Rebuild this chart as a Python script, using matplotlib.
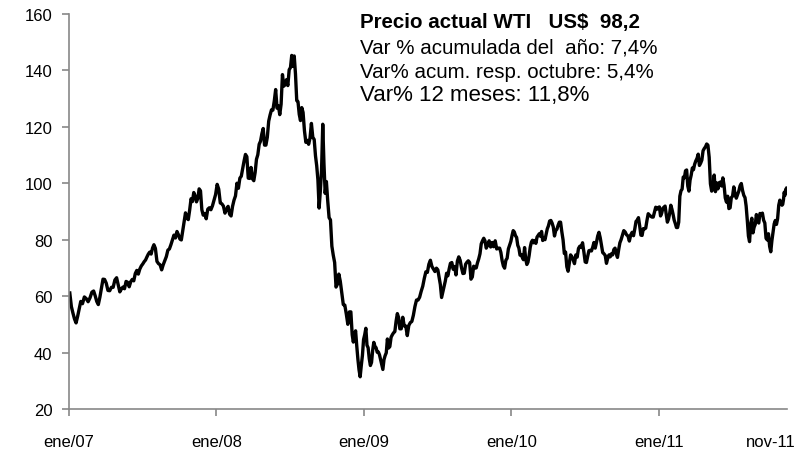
import matplotlib.pyplot as plt
import pandas as pd

# WTI (US$/barril), lecturas aproximadas por mes, ene-2007 a nov-2011
wti_2007 = [
    [61.1, 56.3, 54.0, 51.9, 50.5, 52.8, 55.4, 58.1],
    [57.3, 59.7, 59.1, 58.0, 59.4, 61.4],
    [61.8, 60.1, 58.1, 57.0, 59.6, 62.7, 66.0, 65.9],
    [64.6, 62.0, 61.9, 63.1, 63.1, 65.7, 66.5],
    [63.9, 61.5, 62.5, 63.2, 62.6, 65.2, 64.9, 63.3],
    [65.1, 65.9, 65.4, 68.0, 69.1, 67.8, 69.6, 70.7],
    [71.4, 72.2, 72.8, 73.9, 74.9, 75.6, 74.9, 77.0, 78.2],
    [76.9, 72.3, 71.5, 71.1, 69.3, 71.1, 72.5, 74.0],
    [76.3, 76.7, 78.2, 79.9, 81.6, 80.6, 82.9, 81.7],
    [80.2, 79.9, 83.1, 86.1, 89.5, 87.6, 87.1, 90.5, 94.5],
    [93.5, 96.7, 95.5, 93.4, 94.6, 98.0, 97.3, 90.6, 88.7],
    [89.3, 87.4, 90.8, 91.3, 90.6, 92.0, 94.0, 96.0],
]
wti_2008 = [
    [99.6, 97.9, 93.0, 92.7, 91.9, 89.4, 90.7, 91.8],
    [89.0, 88.4, 91.8, 94.0, 95.5, 100.0, 98.2, 101.8],
    [102.5, 105.2, 107.9, 110.2, 109.4, 101.8, 101.7, 105.6, 101.6],
    [100.9, 103.8, 108.5, 110.1, 113.8, 114.9, 117.5, 119.4, 113.5],
    [113.5, 116.3, 122.0, 124.2, 126.0, 125.9, 129.1, 133.2, 126.6],
    [127.4, 124.3, 128.0, 138.5, 134.4, 134.9, 136.7, 134.6, 140.2],
    [141.0, 145.3, 141.4, 145.1, 138.7, 129.3, 128.9, 124.4, 122.2, 126.8],
    [125.1, 118.6, 114.5, 115.2, 113.8, 116.0, 121.2, 116.3, 115.5],
    [109.7, 106.2, 101.2, 91.2, 97.2, 104.6, 120.9, 106.9, 96.4, 100.6],
    [93.9, 87.8, 87.0, 77.7, 74.5, 71.9, 63.2, 64.2, 67.8],
    [65.3, 61.0, 57.0, 56.8, 53.6, 50.0, 54.4, 54.4],
    [46.3, 43.7, 46.3, 47.7, 42.4, 37.7, 33.9, 31.4, 35.4, 39.0, 44.6],
]
wti_2009 = [
    [46.3, 48.6, 42.6, 41.7, 37.8, 35.4, 36.5, 40.8, 43.6, 42.2, 41.7],
    [40.1, 40.2, 39.2, 37.5, 35.9, 34.0, 37.5, 38.9, 39.9, 44.8],
    [41.6, 42.1, 45.4, 46.3, 47.0, 47.4, 51.1, 53.8, 52.4, 48.4],
    [48.4, 52.5, 49.4, 49.4, 46.0, 49.6, 50.6, 51.0],
    [53.2, 56.3, 58.6, 58.6, 59.6, 61.7, 63.5, 66.3],
    [68.6, 68.4, 71.3, 72.7, 70.5, 69.6, 68.7, 69.9],
    [69.3, 66.7, 64.1, 59.5, 61.5, 63.6, 65.4, 68.1, 67.2, 69.5],
    [71.6, 71.9, 69.5, 70.5, 67.5, 72.4, 73.9, 72.7, 70.0],
    [68.0, 68.1, 71.3, 72.0, 72.5, 71.9, 66.0, 66.8, 70.6],
    [69.9, 70.0, 71.8, 73.2, 75.0, 78.5, 79.6, 80.5, 79.6, 77.0],
    [78.0, 79.6, 77.4, 79.0, 77.5, 79.6, 76.7, 77.0],
    [77.0, 75.5, 72.6, 70.7, 69.9, 72.7, 73.4, 76.7, 78.0, 79.4],
]
wti_2010 = [
    [81.5, 83.2, 82.7, 81.4, 80.8, 78.0, 77.0, 74.5, 74.7, 73.7, 72.9],
    [77.2, 73.1, 71.2, 72.0, 74.3, 77.3, 79.1, 79.8, 78.9, 79.7],
    [78.7, 80.9, 81.5, 82.1, 81.2, 82.9, 79.7, 80.7, 80.0, 81.9, 83.8],
    [84.9, 86.6, 86.8, 85.9, 84.5, 81.3, 83.2, 83.7, 85.1, 86.2],
    [86.2, 82.8, 79.9, 75.1, 75.6, 70.4, 68.8, 71.6, 74.6, 74.0],
    [72.9, 71.5, 74.6, 73.8, 76.9, 77.7, 77.2, 78.9, 75.6],
    [72.1, 71.9, 74.1, 76.1, 76.2, 76.0, 77.3, 79.0, 77.0, 79.0],
    [81.3, 82.6, 80.7, 78.0, 75.4, 75.0, 74.4, 71.6, 73.4, 74.6],
    [73.9, 75.0, 74.6, 76.5, 77.0, 75.0, 73.7, 76.5, 78.9, 80.0],
    [81.6, 83.2, 82.7, 81.7, 81.3, 79.5, 81.7, 82.6, 81.4],
    [83.9, 86.5, 86.9, 87.8, 84.9, 81.6, 81.5, 83.9, 83.8, 84.1],
    [86.8, 89.2, 88.7, 88.3, 88.0, 88.0, 89.8, 91.5, 90.8, 91.4],
]
wti_2011 = [
    [91.6, 88.4, 89.4, 91.1, 91.5, 91.9, 88.9, 86.2, 87.3, 89.3, 92.2],
    [90.8, 89.0, 86.9, 85.7, 84.3, 84.3, 86.2, 95.4, 97.3, 97.9],
    [102.2, 101.9, 104.4, 104.7, 99.0, 97.2, 101.1, 102.9, 105.4, 104.8, 106.7],
    [107.9, 108.8, 110.3, 106.3, 107.1, 108.2, 111.5, 112.3, 112.9, 113.9],
    [113.5, 109.2, 99.8, 97.2, 98.2, 102.9, 97.0, 100.1, 98.0, 100.2],
    [100.4, 99.0, 101.9, 99.3, 94.8, 93.3, 95.4, 91.0, 91.3, 94.9],
    [95.4, 98.7, 96.2, 94.7, 95.9, 97.2, 99.1, 99.9, 97.4, 95.7],
    [94.9, 91.9, 86.9, 81.3, 79.3, 85.7, 87.6, 82.4, 84.4, 85.4, 88.9],
    [86.5, 85.9, 89.3, 88.9, 89.4, 86.9, 85.9, 80.5, 79.9, 82.1],
    [77.6, 75.7, 79.7, 82.6, 85.6, 86.8, 85.4, 87.4, 92.2, 94.0, 93.2],
    [92.2, 92.5, 94.1, 96.8, 95.7, 97.8, 98.2],
]
years = [2007, 2008, 2009, 2010, 2011]
end_date = pd.Timestamp('2011-11-14')

tick_dates = ['2007-01-01', '2008-01-01', '2009-01-01', '2010-01-01', '2011-01-01']
tick_labels = ['ene/07', 'ene/08', 'ene/09', 'ene/10', 'ene/11']

info_lines = [
    'Precio actual WTI   US$  98,2',
    'Var % acumulada del  año: 7,4%',
    'Var% acum. resp. octubre: 5,4%',
    'Var% 12 meses: 11,8%',
]

# fechas: cada lectura repartida dentro de su mes
dates, values = [], []
for year, months in zip(years, [wti_2007, wti_2008, wti_2009, wti_2010, wti_2011]):
    for m, vals in enumerate(months, start=1):
        start = pd.Timestamp(year=year, month=m, day=1)
        stop = start + pd.offsets.MonthBegin(1)
        if stop > end_date:
            stop = end_date
        span = stop - start
        for j, v in enumerate(vals):
            dates.append(start + span * (j + 0.5) / len(vals))
            values.append(v)

plt.rcParams['font.family'] = ['Liberation Sans', 'DejaVu Sans']

fig = plt.figure(figsize=(8.12, 4.52), dpi=100)
ax = fig.add_axes([0.085, 0.093, 0.884, 0.874])

ax.plot(dates, values, color='black', linewidth=2.4)

ax.set_xlim(pd.Timestamp('2007-01-01'), end_date)
ax.set_ylim(20, 160)
ax.set_yticks(range(20, 161, 20))
ax.set_xticks([pd.Timestamp(d) for d in tick_dates])
ax.set_xticklabels(tick_labels)

for s in ['top', 'right']:
    ax.spines[s].set_visible(False)
for s in ['left', 'bottom']:
    ax.spines[s].set_color('#888888')
    ax.spines[s].set_linewidth(1.2)

ax.tick_params(axis='y', length=5, width=1.2, color='#888888', labelsize=12, pad=7)
ax.tick_params(axis='x', length=5, width=1.2, color='#888888', labelsize=12, pad=13)

ax.text(0.977, -0.083, 'nov-11', transform=ax.transAxes, ha='center', va='center',
        fontsize=12)

tx = 360 / 812
fig.text(tx, 1 - 28 / 452, info_lines[0], fontsize=14.8, fontweight='bold', va='baseline')
fig.text(tx, 1 - 53 / 452, info_lines[1], fontsize=14.8, va='baseline')
fig.text(tx, 1 - 78 / 452, info_lines[2], fontsize=14.8, va='baseline')
fig.text(tx, 1 - 101 / 452, info_lines[3], fontsize=16, va='baseline')

fig.savefig('out.png', dpi=100)
